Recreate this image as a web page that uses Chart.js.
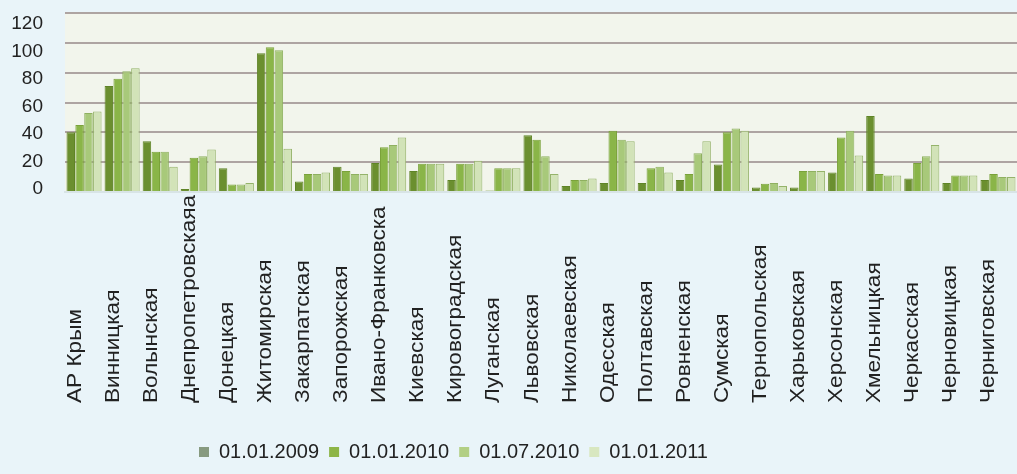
<!DOCTYPE html>
<html>
<head>
<meta charset="utf-8">
<script src="https://cdn.jsdelivr.net/npm/chart.js@4"></script>
<style>
    html, body { margin: 0; padding: 0; background: #e9f4f9; }
    #wrap { width: 1017px; height: 474px; position: relative; }
</style>
</head>
<body>
<div id="wrap"><canvas id="barChart"></canvas></div>
<script>
const regions = [
    'АР Крым', 'Винницкая', 'Волынская', 'Днепропетровскаяа', 'Донецкая',
    'Житомирская', 'Закарпатская', 'Запорожская', 'Ивано-Франковска', 'Киевская',
    'Кировоградская', 'Луганская', 'Львовская', 'Николаевская', 'Одесская',
    'Полтавская', 'Ровненская', 'Сумская', 'Тернопольская', 'Харьковская',
    'Херсонская', 'Хмельницкая', 'Черкасская', 'Черновицкая', 'Черниговская',
]
const seriesNames = ['01.01.2009', '01.01.2010', '01.07.2010', '01.01.2011']
const values2009 = [40, 71, 34, 2, 16, 93, 7, 17, 19.5, 14, 8, 1, 38, 4, 6, 6, 8, 18.5, 3, 3, 13, 51, 9, 6, 8]
const values2010 = [45, 76, 27, 23, 5, 97, 12, 14, 30, 19, 19, 16, 35, 8, 41, 16, 12, 40, 5.5, 14, 36.5, 12, 19.5, 11, 12]
const values2010b = [53, 81, 27, 24, 5, 95, 12, 12, 31.5, 19, 19, 16, 24, 8, 35, 17, 26, 42.5, 6, 14, 41, 11, 24, 11, 10]
const values2011 = [54, 83, 17, 28.5, 6, 29, 13, 12, 36.5, 19, 21, 16, 12, 9, 34, 13, 34, 41, 4, 14, 24.5, 11, 31.5, 11, 10]
const yTicks = [0, 20, 40, 60, 80, 100, 120]

const fills = ['#6b8f2f', '#8ab548', '#a8c97a', '#d2e3b8']
const borders = ['#5f8427', '#7aa23a', '#8fb060', '#95b36a']
const legendFills = ['#879a80', '#8db547', '#b2cf84', '#d8e7c0']
const FONT = '"Liberation Sans", Arial, sans-serif'

const plotBackground = {
    id: 'plotBackground',
    beforeDraw(chart) {
        const { ctx, chartArea } = chart
        ctx.save()
        ctx.fillStyle = '#f2f5ec'
        ctx.fillRect(chartArea.left, chartArea.top, chartArea.right - chartArea.left, chartArea.bottom - chartArea.top)
        ctx.restore()
    },
}

// category labels sit with their start on one line below the axis
const bottomLabels = {
    id: 'bottomLabels',
    afterDraw(chart) {
        const { ctx } = chart
        const xs = chart.scales.x
        ctx.save()
        ctx.font = '20px ' + FONT
        ctx.fillStyle = '#222222'
        ctx.textAlign = 'left'
        ctx.textBaseline = 'middle'
        regions.forEach((name, i) => {
            ctx.setTransform(1, 0, 0, 1, xs.getPixelForTick(i) - 9, 403)
            ctx.rotate(-Math.PI / 2)
            ctx.scale(1.13, 1)
            ctx.fillText(name, 0, 0)
        })
        ctx.restore()
    },
}

const legendShift = {
    id: 'legendShift',
    afterLayout(chart) {
        chart.legend.left += 189
        chart.legend.right += 189
    },
}

const datasets = [values2009, values2010, values2010b, values2011].map((vals, i) => ({
    label: seriesNames[i],
    data: vals,
    backgroundColor: fills[i],
    borderColor: borders[i],
    borderWidth: 1,
    categoryPercentage: 0.93,
    barPercentage: 0.96,
}))

const ctx = document.getElementById('barChart').getContext('2d')
new Chart(ctx, {
    type: 'bar',
    data: { labels: regions, datasets: datasets },
    options: {
        responsive: true,
        maintainAspectRatio: false,
        animation: false,
        layout: { padding: { top: 13, right: 0, left: 0, bottom: 2 } },
        plugins: {
            tooltip: { enabled: false },
            legend: {
                position: 'bottom',
                align: 'start',
                labels: {
                    font: { family: FONT, size: 20 },
                    color: '#222222',
                    boxWidth: 10,
                    boxHeight: 10,
                    padding: 10,
                    generateLabels: (chart) =>
                        chart.data.datasets.map((d, i) => ({
                            text: d.label,
                            fillStyle: legendFills[i],
                            strokeStyle: legendFills[i],
                            lineWidth: 0,
                            fontColor: '#222222',
                            datasetIndex: i,
                        })),
                },
            },
        },
        scales: {
            x: {
                ticks: { display: false },
                grid: { display: false },
                border: { color: '#d8e4e6', width: 2 },
                afterFit: (s) => {
                    s.height = 474 - 192 - 2 - s.chart.legend.height
                },
            },
            y: {
                min: 0,
                max: 120,
                weight: 0,
                ticks: { display: false, stepSize: 20 },
                border: { display: false },
                grid: {
                    drawTicks: false,
                    lineWidth: 2,
                    color: (c) => (c.tick && c.tick.value === 0 ? 'rgba(0,0,0,0)' : '#aea4a2'),
                },
                afterFit: (s) => { s.width = 22 },
            },
            yLabels: {
                position: 'left',
                weight: 1,
                min: -2.3,
                max: 128.2,
                grid: { display: false, drawTicks: false },
                border: { display: false },
                ticks: {
                    stepSize: 20,
                    includeBounds: false,
                    padding: 0,
                    color: '#222222',
                    font: { family: FONT, size: 19 },
                    callback: (v) => (yTicks.includes(v) ? String(v) : ''),
                },
                afterFit: (s) => { s.width = 43 },
            },
        },
    },
    plugins: [plotBackground, bottomLabels, legendShift],
})
</script>
</body>
</html>
